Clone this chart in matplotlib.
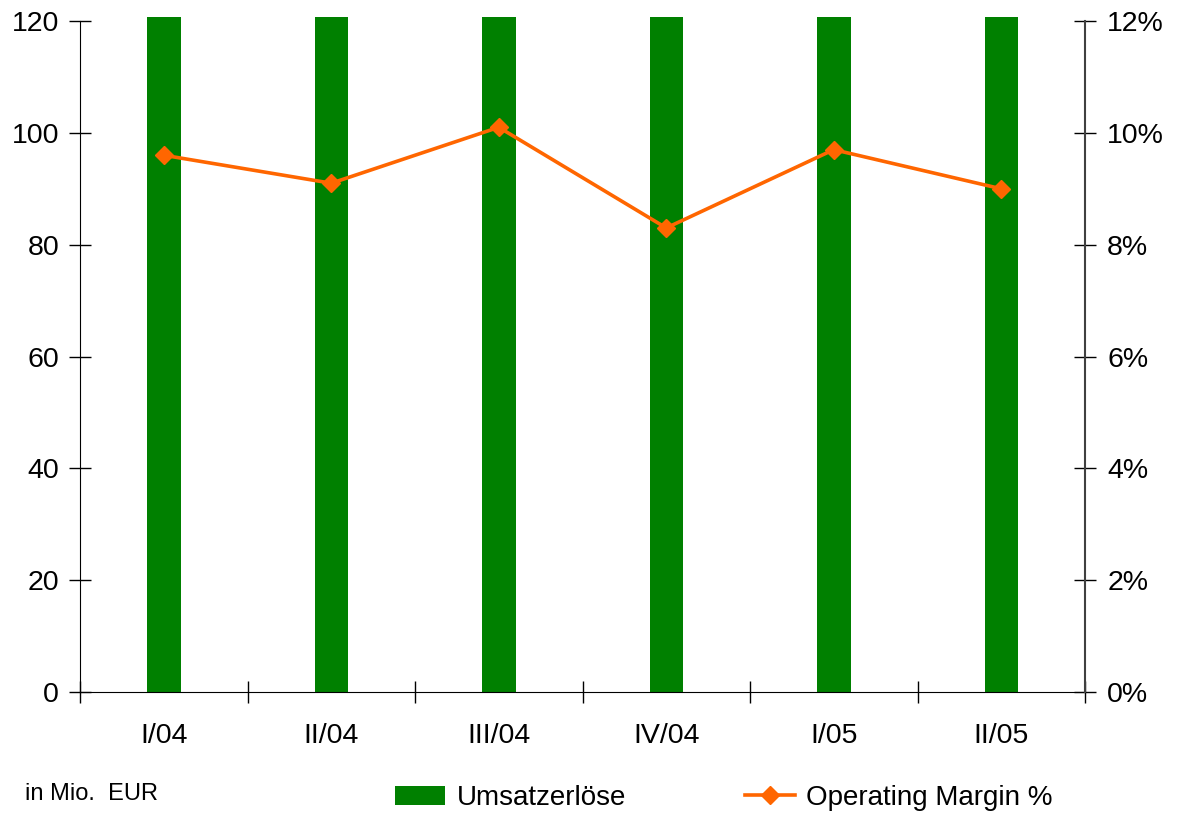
import numpy as np
import matplotlib.pyplot as plt
from matplotlib.ticker import FuncFormatter, FixedLocator

plt.rcParams['font.family'] = ['Liberation Sans', 'DejaVu Sans']

quarters = ["I/04", "II/04", "III/04", "IV/04", "I/05", "II/05"]
umsatz = [140, 140, 140, 140, 140, 140]  # bars run past the top of the axis
margin = [9.6, 9.1, 10.1, 8.3, 9.7, 9.0]

green = "#008000"
orange = "#FF6600"
fs = 20.5

fig = plt.figure(figsize=(11.8, 8.13), dpi=100)
ax = fig.add_axes([0.0678, 0.1488, 0.8517, 0.8308])
ax2 = ax.twinx()

x = np.arange(len(quarters))
ax.bar(x, umsatz, width=0.2, color=green, label="Umsatzerlöse", zorder=2)
ax2.plot(x, [m / 100 for m in margin], color=orange, lw=2.6, marker="D",
         markersize=9, label="Operating Margin %", zorder=3)

ax.set_xlim(-0.5, len(quarters) - 0.5)
ax.set_ylim(0, 120.8)
ax2.set_ylim(0, 0.1208)
ax.set_yticks(np.arange(0, 121, 20))
ax2.set_yticks(np.arange(0, 0.121, 0.02))
ax2.yaxis.set_major_formatter(FuncFormatter(lambda v, p: "{:.0f}%".format(v * 100)))

# ticks sit between the quarters, labels in the middle
ax.xaxis.set_major_locator(FixedLocator(np.arange(-0.5, len(quarters), 1.0)))
ax.xaxis.set_major_formatter(FuncFormatter(lambda v, p: ""))
ax.xaxis.set_minor_locator(FixedLocator(x))
ax.set_xticklabels(quarters, minor=True)
ax.tick_params(axis="x", which="minor", length=0, pad=22, labelsize=fs)
ax.tick_params(axis="x", which="major", direction="inout", length=16, width=1)
ax.tick_params(axis="y", direction="inout", length=16, width=1, labelsize=fs, pad=7)
ax2.tick_params(axis="y", direction="inout", length=16, width=1, labelsize=fs,
                pad=8, colors="black")

for a in (ax, ax2):
    a.spines["top"].set_visible(False)
ax.spines["right"].set_visible(False)
ax2.spines["left"].set_visible(False)
ax2.spines["bottom"].set_visible(False)
ax.spines["left"].set_bounds(0, 120)
ax2.spines["right"].set_bounds(0, 0.12)
ax2.spines["right"].set_color("#404040")
ax2.spines["right"].set_linewidth(1.5)

fig.text(0.021, 0.016, "in Mio.  EUR", fontsize=17, va="baseline")

h1, l1 = ax.get_legend_handles_labels()
h2, l2 = ax2.get_legend_handles_labels()
fig.legend(h1 + h2, l1 + l2, loc="center", bbox_to_anchor=(0.6136, 0.0185),
           ncol=2, frameon=False, fontsize=20, handlelength=1.8,
           columnspacing=4.3, handletextpad=0.4)

fig.savefig("out.png", dpi=100)
